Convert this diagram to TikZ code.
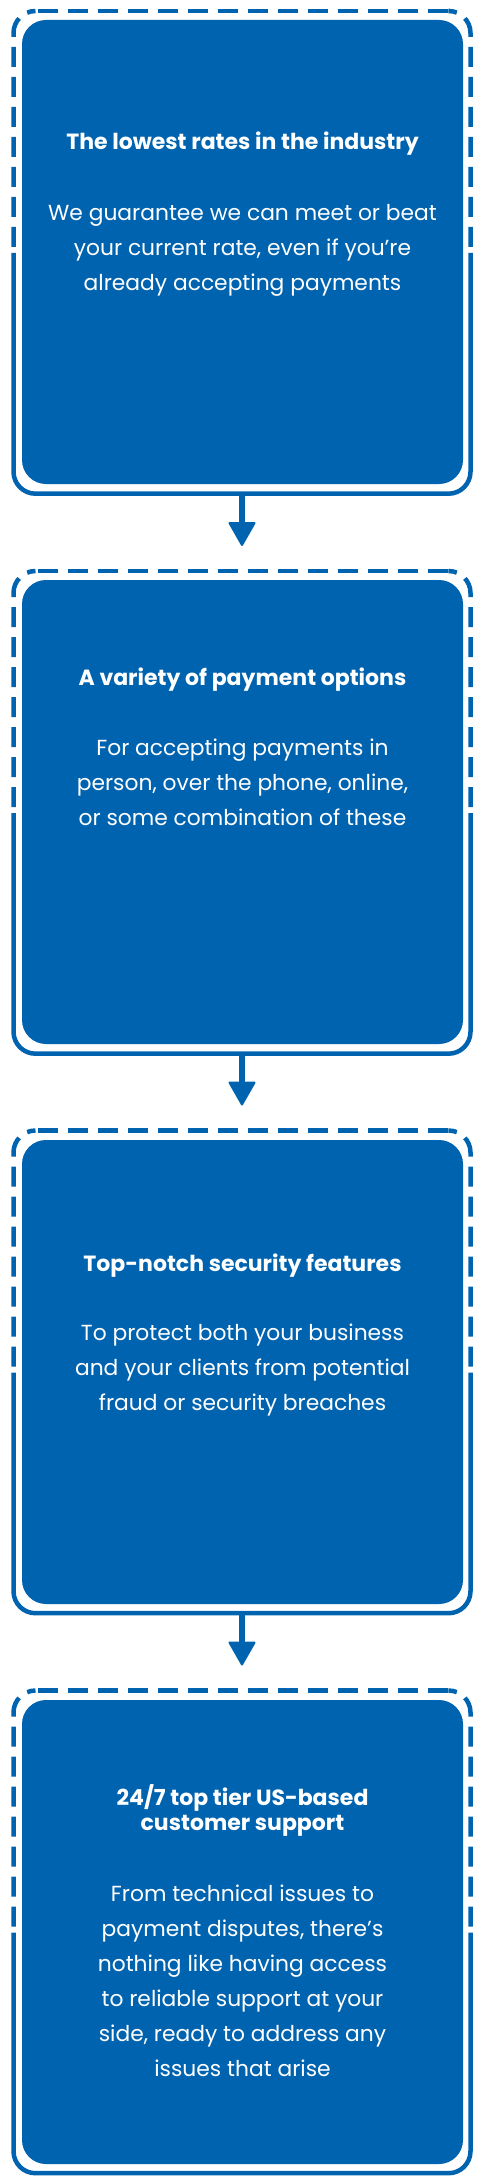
\documentclass[tikz,border=0pt]{standalone}
\usepackage{fontspec}
\setmainfont{Poppins}
\usetikzlibrary{arrows.meta}
\definecolor{brand}{RGB}{0,99,175}
\newcommand\cardframe[1]{%
  \begin{scope}[shift={(0,#1)}]
    \draw[frameline, rounded corners=22pt] (13.5,253) -- (13.5,493.7) -- (470.5,493.7) -- (470.5,253);
    \draw[dashpart, rounded corners=22pt] (13.5,247) -- (13.5,11) -- (35.5,11);
    \draw[dashpart, rounded corners=22pt] (470.5,247) -- (470.5,11) -- (449.5,11);
    \draw[dashpart, dash phase=25pt] (242.5,11) -- (35.5,11);
    \draw[dashpart, dash phase=25pt] (242.5,11) -- (449.5,11);
  \end{scope}}
\begin{document}
\begin{tikzpicture}[x=1pt,y=-1pt,
  frameline/.style={draw=brand, line width=4.5pt},
  dashpart/.style={frameline, dash pattern=on 20pt off 10pt},
  frame/.style={minimum width=457pt, minimum height=482.7pt, inner sep=0pt, outer sep=0pt},
  card/.style={fill=brand, rounded corners=24pt, minimum width=441pt, minimum height=464pt, inner sep=0pt},
  title/.style={text=white, font=\fontsize{22}{25.7}\selectfont\bfseries, align=center, anchor=base, inner sep=0pt},
  body/.style={text=white, font=\fontsize{21.8}{35}\selectfont, align=center, anchor=base, inner sep=0pt},
  link/.style={draw=brand, line width=6pt, shorten >=25pt, -{Triangle[width=28pt,length=25pt,line width=2pt,round]}}]
\useasboundingbox (0,0) rectangle (485,2183);
\foreach \i/\off in {1/0,2/560,3/1119.5,4/1679.5}{
  \node[frame] (f\i) at (242,252.35+\off) {};
}
\cardframe{0}
\cardframe{560}
\cardframe{1119.5}
\cardframe{1679.5}
\node[card] (b1) at (242.5,252) {};
\node[card] (b2) at (242.5,812) {};
\node[card] (b3) at (242.5,1372) {};
\node[card] (b4) at (242.5,1932) {};
\node[title] (t1) at (242.5,150) {The lowest rates in the industry};
\node[body] (d1) at (242.5,290) {We guarantee we can meet or beat\\your current rate, even if you’re\\already accepting payments};
\node[title] (t2) at (242.5,685.7) {A variety of payment options};
\node[body] (d2) at (242.5,825.7) {For accepting payments in\\person, over the phone, online,\\or some combination of these};
\node[title] (t3) at (242.5,1271.5) {Top-notch security features};
\node[body] (d3) at (242.5,1410.5) {To protect both your business\\and your clients from potential\\fraud or security breaches};
\node[title] (t4) at (242.5,1830.7) {24/7 top tier US-based\\customer support};
\node[body] (d4) at (242.5,2076.7) {From technical issues to\\payment disputes, there’s\\nothing like having access\\to reliable support at your\\side, ready to address any\\issues that arise};
\draw[link] (f1.south) -- (f2.north);
\draw[link] (f2.south) -- (f3.north);
\draw[link] (f3.south) -- (f4.north);
\end{tikzpicture}
\end{document}
